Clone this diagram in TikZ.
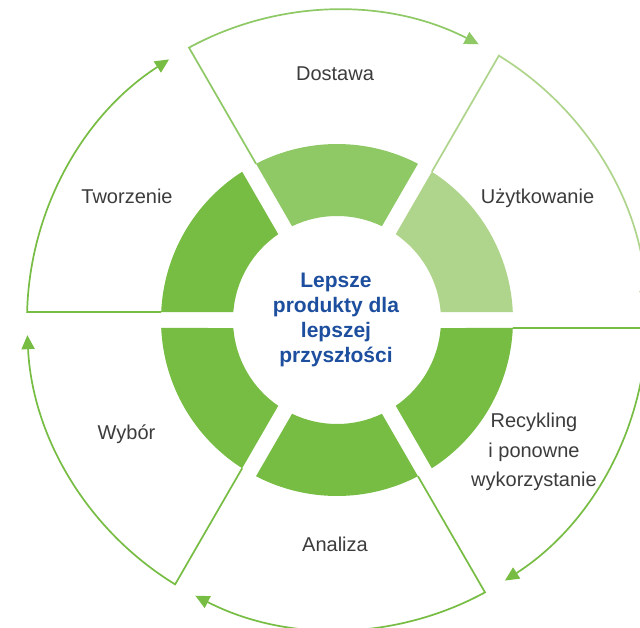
\documentclass[tikz,border=0pt]{standalone}
\usepackage{fontspec}
\setmainfont{Liberation Sans}
\usetikzlibrary{arrows.meta}
\definecolor{gdark}{HTML}{77BD43}
\definecolor{gmid}{HTML}{8EC965}
\definecolor{glight}{HTML}{AFD48B}
\definecolor{txtgray}{HTML}{3C3C3C}
\definecolor{txtblue}{HTML}{1D4F9E}
% #1 = clockwise boundary angle, #2 = counter-clockwise boundary angle, #3 = colour
\newcommand\ringseg[3]{%
  \fill[#3] ({#1+2.605}:176) arc[start angle={#1+2.605}, end angle={#2-2.605}, radius=176]
    -- ({#2-4.412}:104) arc[start angle={#2-4.412}, end angle={#1+4.412}, radius=104] -- cycle;}
% #1 = counter-clockwise boundary angle, #2 = colour
\newcommand\rimseg[2]{%
  \draw[rim=#2] ({#1-2.605}:176) -- ({#1-1.479}:310)
    arc[start angle={#1-1.479}, end angle={#1-57.2}, radius=310];}
\begin{document}
\begin{tikzpicture}[x=1pt,y=1pt,
  rim/.style={draw=#1,line width=1.7pt,line join=miter,-{Triangle[length=14pt,width=13pt]}},
  lbl/.style={text=txtgray,font=\fontsize{20}{29.5}\selectfont,inner sep=0pt,align=center},
  hub/.style={text=txtblue,font=\bfseries\fontsize{21}{24.7}\selectfont,inner sep=0pt,align=center}]
\useasboundingbox (-337,-307) rectangle (303,320);
\clip (-337,-307) rectangle (303,320);
\fill[white] (-337,-307) rectangle (303,320);
% inner ring
\ringseg{120}{180}{gdark}
\ringseg{60}{120}{gmid}
\ringseg{0}{60}{glight}
\ringseg{-60}{0}{gdark}
\ringseg{-120}{-60}{gdark}
\ringseg{180}{240}{gdark}
% outer outlines with arrows
\rimseg{120}{gmid}
\rimseg{60}{glight}
\rimseg{0}{gdark}
\rimseg{-60}{gdark}
\rimseg{240}{gdark}
\rimseg{180}{gdark}
% labels
\node[lbl,anchor=base] (dostawa) at (-2,239) {Dostawa};
\node[lbl,anchor=base] (uzyt) at (200.5,116) {Użytkowanie};
\node[lbl,anchor=base] (tworz) at (-210,116) {Tworzenie};
\node[lbl,anchor=base] (wybor) at (-210.5,-119) {Wybór};
\node[lbl,anchor=base] (analiza) at (-2,-231) {Analiza};
\node[lbl] (recykl) at (197,-132) {Recykling\\i ponowne\\wykorzystanie};
\node[hub] (hub) at (-1,0) {Lepsze\\produkty dla\\lepszej\\przyszłości};
\end{tikzpicture}
\end{document}
